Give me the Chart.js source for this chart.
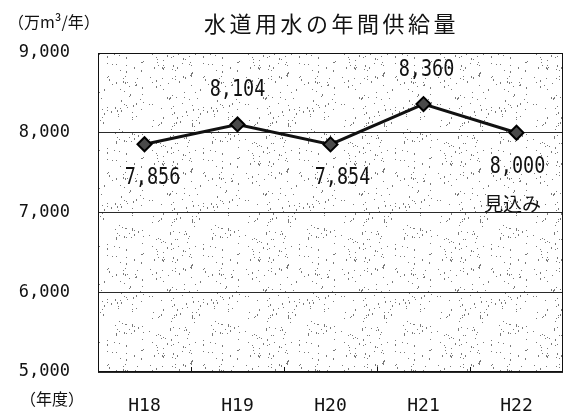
<!DOCTYPE html>
<html>
<head>
<meta charset="utf-8">
<script src="https://cdn.jsdelivr.net/npm/chart.js@4.4.1/dist/chart.umd.min.js"></script>
<style>
  html, body { margin: 0; padding: 0; background: #fff; overflow: hidden; }
  #wrap { width: 564px; height: 412px; position: relative; }
</style>
</head>
<body>
<div id="wrap"><canvas id="supplyChart"></canvas></div>
<script>
// data
const years = ['H18', 'H19', 'H20', 'H21', 'H22'];
const supply = [7856, 8104, 7854, 8360, 8000];
const notes = ['', '', '', '', '見込み'];
const yTicks = [5000, 6000, 7000, 8000, 9000];

const titleText = '水道用水の年間供給量';
const unitText = '（万m³/年）';
const xUnitText = '（年度）';

const monoFont = "'DejaVu Sans Mono', monospace";
const jpFont = "'Noto Sans CJK JP', sans-serif";

// stippled background tile, fixed seed so it looks the same every run
function makeStipple() {
  let c = document.createElement('canvas');
  c.width = 96; c.height = 96;
  let g = c.getContext('2d');
  g.fillStyle = '#fff';
  g.fillRect(0, 0, 96, 96);
  let seed = 12345;
  function next() {
    seed = (seed * 1103515245 + 12345) % 2147483648;
    return seed / 2147483648;
  }
  g.fillStyle = '#7a7a7a';
  for (let i = 0; i < 200; i++) {
    let x = Math.floor(next() * 96);
    let y = Math.floor(next() * 96);
    g.fillRect(x, y, 1, 1);
    if (next() < 0.3) g.fillRect(x, y + 1, 1, 1);
  }
  return c;
}
const stipple = makeStipple();

const extras = {
  id: 'extras',
  beforeDraw(chart) {
    let ctx = chart.ctx;
    let a = chart.chartArea;
    ctx.save();
    ctx.fillStyle = ctx.createPattern(stipple, 'repeat');
    ctx.fillRect(a.left, a.top, a.right - a.left, a.bottom - a.top);
    ctx.restore();
  },
  afterDatasetsDraw(chart) {
    let ctx = chart.ctx;
    let a = chart.chartArea;
    let xs = chart.scales.x;
    let ys = chart.scales.y;
    ctx.save();

    // frame
    ctx.strokeStyle = '#111';
    ctx.lineWidth = 1;
    ctx.strokeRect(a.left + 0.5, a.top + 0.5, a.right - a.left - 1, a.bottom - a.top - 1);

    // small tick marks between categories
    for (let i = 1; i < years.length; i++) {
      let mx = Math.round((xs.getPixelForValue(i - 1) + xs.getPixelForValue(i)) / 2) + 0.5;
      ctx.beginPath();
      ctx.moveTo(mx, a.bottom - 5);
      ctx.lineTo(mx, a.bottom);
      ctx.stroke();
    }

    // value labels
    ctx.fillStyle = '#111';
    ctx.textAlign = 'center';
    ctx.textBaseline = 'middle';
    let place = [1, -1, 1, -1, 1];
    let shift = [8, 0, 12, 3, 1];
    supply.forEach(function(v, i) {
      let px = xs.getPixelForValue(i) + shift[i];
      let py = ys.getPixelForValue(v) + place[i] * 34;
      ctx.save();
      ctx.translate(px, py);
      ctx.scale(0.84, 1.05);
      ctx.font = '22px ' + monoFont;
      ctx.fillText(v.toLocaleString('en-US'), 0, 0);
      ctx.restore();
      if (notes[i]) {
        ctx.font = '19px ' + jpFont;
        ctx.fillText(notes[i], px - 5, py + 37);
      }
    });

    // title and unit labels
    ctx.font = '22px ' + jpFont;
    ctx.letterSpacing = '3.5px';
    ctx.fillText(titleText, (a.left + a.right) / 2 + 1, 24);
    ctx.letterSpacing = '0px';
    ctx.font = '16px ' + jpFont;
    ctx.textAlign = 'left';
    ctx.fillText(unitText, 8, 22);
    ctx.fillText(xUnitText, 20, 399);
    ctx.restore();
  }
};

let ctx = document.getElementById('supplyChart').getContext('2d');
let myChart = new Chart(ctx, {
  type: 'line',
  data: {
    labels: years,
    datasets: [{
      label: '水道用水',
      data: supply,
      borderColor: '#111',
      borderWidth: 3,
      pointStyle: 'rectRot',
      pointRadius: 7,
      pointBackgroundColor: '#4a4a4a',
      pointBorderColor: '#000',
      pointBorderWidth: 2,
      tension: 0
    }]
  },
  options: {
    responsive: true,
    maintainAspectRatio: false,
    animation: false,
    layout: { autoPadding: false, padding: { top: 53, right: 1, left: 0, bottom: 0 } },
    plugins: {
      legend: { display: false },
      title: { display: false },
      tooltip: { enabled: false }
    },
    scales: {
      x: {
        offset: true,
        grid: { display: false },
        border: { display: false },
        ticks: {
          color: '#111',
          padding: 16,
          font: { family: monoFont, size: 18 }
        },
        afterFit(scale) { scale.height = 40; }
      },
      y: {
        min: 5000,
        max: 9000,
        afterBuildTicks(scale) {
          scale.ticks = yTicks.map(function(v) { return { value: v }; });
        },
        grid: { color: '#2a2a2a', lineWidth: 1, drawTicks: false },
        border: { display: false },
        ticks: {
          color: '#111',
          padding: 28,
          font: { family: monoFont, size: 17 },
          callback: function(v) { return v.toLocaleString('en-US'); }
        },
        afterFit(scale) { scale.width = 98; }
      }
    }
  },
  plugins: [extras]
});
</script>
</body>
</html>
